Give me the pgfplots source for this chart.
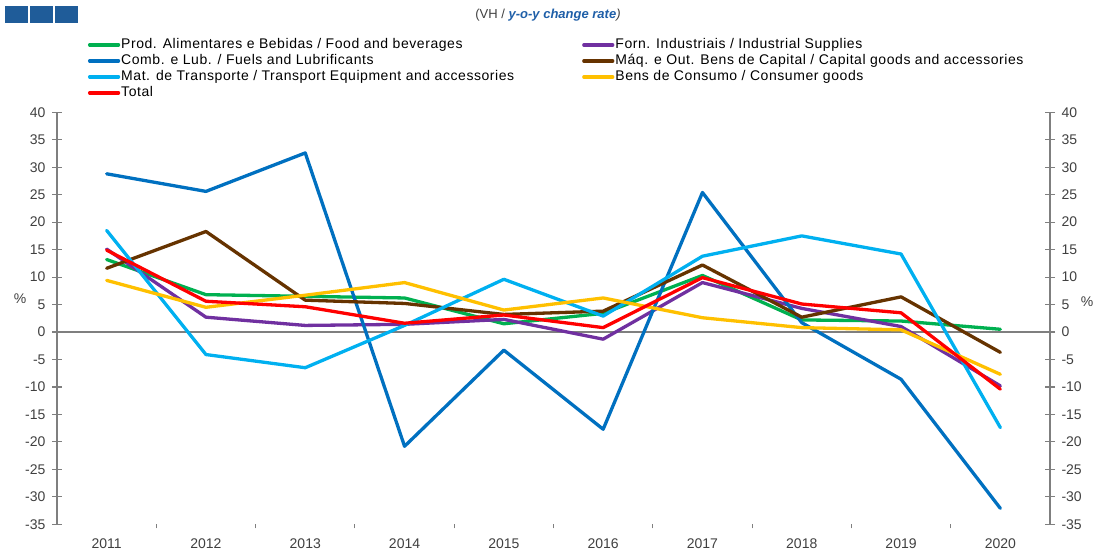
\documentclass[border=0pt]{standalone}
\usepackage{pgfplots}
\pgfplotsset{compat=1.18}
\usepackage{fontspec}
\setmainfont{Liberation Sans}
\definecolor{cFood}{HTML}{00B050}
\definecolor{cInd}{HTML}{7030A0}
\definecolor{cFuel}{HTML}{0070C0}
\definecolor{cCap}{HTML}{663300}
\definecolor{cTrans}{HTML}{00B0F0}
\definecolor{cCons}{HTML}{FFC000}
\definecolor{cTot}{HTML}{FF0000}
\definecolor{boxblue}{HTML}{1F5C99}
\definecolor{titleblue}{HTML}{1F5FA8}
\definecolor{axgrey}{HTML}{7F7F7F}
\definecolor{txtgrey}{HTML}{404040}
\newcommand{\lf}{\fontsize{14bp}{16bp}\selectfont\addfontfeature{LetterSpace=4}}
\newcommand{\tf}{\fontsize{14bp}{16bp}\selectfont}
\pgfplotsset{
  common/.style={
    at={(57bp,26.7bp)}, anchor=south west, scale only axis,
    width=993bp, height=412bp,
    xmin=-0.5, xmax=9.5, ymin=-35, ymax=40,
    ytick={-35,-30,...,40},
    /pgf/number format/assume math mode=true,
    ticklabel style={font=\tf, text=txtgrey},
    axis line style={axgrey, line width=1.1bp},
    every tick/.style={axgrey, line width=1.1bp},
  }
}
\begin{document}
\begin{tikzpicture}[x=1bp,y=1bp]
\useasboundingbox (0,0) rectangle (1096,551);
\fill[boxblue] (5,528) rectangle (28,545);
\fill[boxblue] (30,528) rectangle (53,545);
\fill[boxblue] (55,528) rectangle (78,545);
\node[font=\fontsize{13bp}{15bp}\selectfont, text=txtgrey] at (548,536) {(VH / \textcolor{titleblue}{\textbf{\textit{y-o-y change rate}}}\textit{)}};
\node[font=\tf, text=txtgrey] at (20,252) {\%};
\node[font=\tf, text=txtgrey] at (1087,249) {\%};

% zero line with ticks
\begin{axis}[common, hide y axis, axis x line*=middle,
  x axis line style={-},
  xtick={0.5,1.5,...,8.5}, xticklabels={}, tick align=outside, xtick pos=left,
  major tick length=4bp]
\addplot[draw=none] coordinates {(0,0)};
\end{axis}

% right axis and year labels
\begin{axis}[common, axis y line*=right, axis x line*=bottom,
  x axis line style={draw=none},
  xtick={0,...,9}, xticklabels={2011,2012,2013,2014,2015,2016,2017,2018,2019,2020},
  xtick style={draw=none},
  xticklabel style={yshift=-6bp},
  tick align=center, major tick length=10bp,
  yticklabel style={xshift=3bp}]
\addplot[draw=none] coordinates {(0,0)};
\end{axis}

% main data axis
\begin{axis}[common, axis y line*=left, hide x axis,
  tick align=center, major tick length=10bp,
  yticklabel style={xshift=-3bp},
  legend columns=2,
  legend cell align=left,
  legend style={at={(0.0312,1.1828)}, anchor=north west, draw=none, fill=none,
    inner sep=0pt, outer sep=0pt, row sep=0pt, column sep=0pt,
    nodes={inner xsep=1bp, inner ysep=1.5bp, text height=10bp, text depth=3bp, font=\lf, text=black}},
  legend image code/.code={\draw[#1, line width=3.2bp] (0bp,0bp) -- (29bp,0bp);},
  every axis plot/.append style={line width=3.3bp, line join=round, line cap=round}]
\addplot[cFood] coordinates {(0,13.2) (1,6.8) (2,6.5) (3,6.2) (4,1.5) (5,3.4) (6,10.3) (7,2.2) (8,2.0) (9,0.5)};
\addlegendentry{\makebox[460bp][l]{Prod. Alimentares e Bebidas / Food and beverages}}
\addplot[cInd] coordinates {(0,15.1) (1,2.7) (2,1.2) (3,1.4) (4,2.3) (5,-1.3) (6,9.0) (7,4.3) (8,1.0) (9,-9.8)};
\addlegendentry{Forn. Industriais / Industrial Supplies}
\addplot[cFuel] coordinates {(0,28.8) (1,25.6) (2,32.6) (3,-20.8) (4,-3.3) (5,-17.7) (6,25.4) (7,1.7) (8,-8.6) (9,-32.1)};
\addlegendentry{\makebox[460bp][l]{Comb. e Lub. /  Fuels and Lubrificants}}
\addplot[cCap] coordinates {(0,11.6) (1,18.3) (2,5.8) (3,5.2) (4,3.2) (5,3.8) (6,12.2) (7,2.7) (8,6.4) (9,-3.7)};
\addlegendentry{Máq. e Out. Bens de Capital / Capital goods and accessories}
\addplot[cTrans] coordinates {(0,18.5) (1,-4.1) (2,-6.5) (3,1.2) (4,9.6) (5,2.9) (6,13.8) (7,17.5) (8,14.2) (9,-17.4)};
\addlegendentry{\makebox[460bp][l]{Mat. de Transporte / Transport Equipment and accessories}}
\addplot[cCons] coordinates {(0,9.4) (1,4.5) (2,6.7) (3,9.0) (4,4.0) (5,6.2) (6,2.6) (7,0.8) (8,0.4) (9,-7.7)};
\addlegendentry{Bens de Consumo / Consumer goods}
\addplot[cTot] coordinates {(0,14.9) (1,5.6) (2,4.6) (3,1.6) (4,3.1) (5,0.8) (6,9.9) (7,5.1) (8,3.5) (9,-10.4)};
\addlegendentry{Total}
\end{axis}
\end{tikzpicture}
\end{document}
